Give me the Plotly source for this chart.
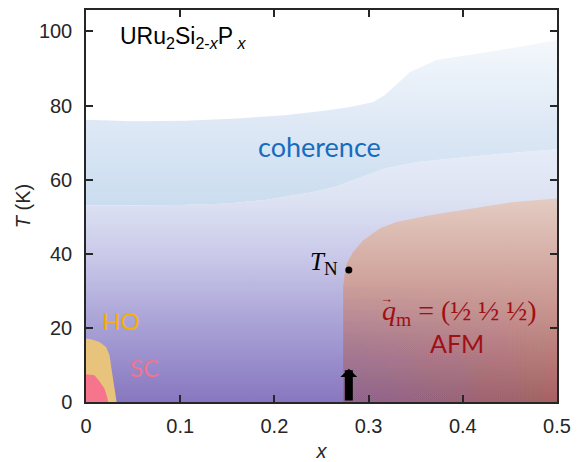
import plotly.graph_objects as go

# ---------------- data ----------------
coh_upper_x = [0, 0.05, 0.105, 0.16, 0.211, 0.259, 0.282, 0.305, 0.317, 0.324, 0.344, 0.372, 0.418, 0.46, 0.5]
coh_upper_T = [76.2, 75.8, 75.9, 76.5, 77.4, 78.8, 79.7, 81.0, 82.8, 84.5, 89.1, 92.3, 94.1, 95.8, 97.7]

coh_lower_x = [0, 0.05, 0.1, 0.15, 0.19, 0.211, 0.24, 0.264, 0.29, 0.317, 0.352, 0.39, 0.424, 0.46, 0.5]
coh_lower_T = [53.1, 53.1, 53.2, 53.6, 54.5, 55.4, 56.6, 58.0, 60.5, 63.0, 64.8, 65.8, 66.6, 67.4, 68.2]

afm_x = [0.273, 0.273, 0.2745, 0.2765, 0.2835, 0.294, 0.3118, 0.3297, 0.365, 0.4187, 0.4536, 0.5]
afm_T = [0, 31.0, 34.5, 37.3, 40.5, 43.6, 46.8, 48.6, 50.4, 52.6, 54.0, 54.9]

ho_x = [0, 0.002, 0.0072, 0.0143, 0.0215, 0.025, 0.0268, 0.0292, 0.0325]
ho_T = [17.1, 17.1, 16.8, 16.2, 14.8, 12.6, 9.4, 4.9, 0]

sc_x = [0, 0.002, 0.009, 0.0143, 0.0197, 0.0225, 0.0235]
sc_T = [7.5, 7.4, 7.2, 5.6, 3.6, 1.3, 0]

tn_x = [0.279]
tn_T = [35.6]

x_ticks = [0, 0.1, 0.2, 0.3, 0.4, 0.5]
x_ticklabels = ["0", "0.1", "0.2", "0.3", "0.4", "0.5"]
y_ticks = [0, 20, 40, 60, 80, 100]
y_ticklabels = ["0", "20", "40", "60", "80", "100"]

X_MAX = 0.5
Y_MAX = 105.8

# ---------------- figure ----------------
fig = go.Figure()

# background gradient (below the coherence band)
bg_x = [0] + coh_lower_x + [X_MAX]
bg_y = [0] + coh_lower_T + [0]
fig.add_trace(go.Scatter(
    x=bg_x, y=bg_y, mode="lines", line=dict(width=0), fill="toself",
    fillgradient=dict(type="vertical", start=0, stop=70,
                      colorscale=[[0, "rgb(136,119,192)"], [0.286, "rgb(167,160,213)"],
                                  [0.57, "rgb(202,202,233)"], [0.786, "rgb(222,227,243)"],
                                  [1, "rgb(230,237,248)"]]),
    hoverinfo="skip", showlegend=False))

# coherence band
band_x = coh_lower_x + coh_upper_x[::-1]
band_y = coh_lower_T + coh_upper_T[::-1]
fig.add_trace(go.Scatter(
    x=band_x, y=band_y, mode="lines", line=dict(width=0), fill="toself",
    fillgradient=dict(type="vertical", start=52, stop=98,
                      colorscale=[[0, "rgb(201,220,238)"], [0.52, "rgb(223,233,246)"],
                                  [1, "rgb(244,248,252)"]]),
    hoverinfo="skip", showlegend=False))

# AFM region
afm_px = afm_x + [X_MAX]
afm_py = afm_T + [0]
fig.add_trace(go.Scatter(
    x=afm_px, y=afm_py, mode="lines", line=dict(width=0), fill="toself",
    fillgradient=dict(type="vertical", start=0, stop=55,
                      colorscale=[[0, "rgb(168,96,98)"], [0.45, "rgb(200,148,142)"],
                                  [1, "rgb(228,204,194)"]]),
    hoverinfo="skip", showlegend=False))

# purple tint toward the lower-left of the AFM region (stacked faint layers)
n_layers = 10
for k in range(1, n_layers + 1):
    h = afm_T[1] * k / n_layers
    fig.add_trace(go.Scatter(
        x=[afm_x[0], afm_x[0], X_MAX, X_MAX], y=[0, h, h, 0],
        mode="lines", line=dict(width=0), fill="toself",
        fillgradient=dict(type="horizontal", start=afm_x[0], stop=X_MAX,
                          colorscale=[[0, "rgba(110,110,210,0.05)"], [1, "rgba(110,110,210,0)"]]),
        hoverinfo="skip", showlegend=False))

# HO region
fig.add_trace(go.Scatter(
    x=ho_x + [0], y=ho_T + [0], mode="lines", line=dict(width=0), fill="toself",
    fillcolor="rgb(231,195,123)", hoverinfo="skip", showlegend=False))

# SC region
fig.add_trace(go.Scatter(
    x=sc_x + [0], y=sc_T + [0], mode="lines", line=dict(width=0), fill="toself",
    fillcolor="rgb(247,117,140)", hoverinfo="skip", showlegend=False))

# T_N point
fig.add_trace(go.Scatter(
    x=tn_x, y=tn_T, mode="markers", marker=dict(color="black", size=7),
    hoverinfo="skip", showlegend=False))

sans = "Liberation Sans, Arial, sans-serif"
serif = "Liberation Serif, Times New Roman, serif"
calib = "Lato, Open Sans, sans-serif"
afm_red = "rgb(160,15,20)"

annotations = [
    dict(x=0.0335, y=98.5, xanchor="left", yanchor="middle",
         text="URu<sub>2</sub>Si<sub>2-<i>x</i></sub>P<sub> <i>x</i></sub>",
         font=dict(family=sans, size=23, color="black")),
    dict(x=0.248, y=69.0, text="coherence",
         font=dict(family=calib, size=27, color="rgb(24,108,190)")),
    dict(x=0.037, y=22.1, text="HO",
         font=dict(family=calib, size=24, color="rgb(245,176,0)")),
    dict(x=0.0622, y=9.4, text="SC",
         font=dict(family=calib, size=24, color="rgb(242,115,143)")),
    dict(x=0.3125, y=24.2, xanchor="left", text="<i>q</i><sub>m</sub> = (½ ½ ½)",
         font=dict(family=serif, size=28, color=afm_red)),
    dict(x=0.3188, y=28.0, text="→",
         font=dict(family=serif, size=13, color=afm_red)),
    dict(x=0.394, y=16.0, text="AFM",
         font=dict(family=calib, size=25, color=afm_red)),
    dict(x=0.2694, y=37.4, xanchor="right",
         text="<i>T</i><sub><span style='font-size:19px'>N</span></sub>",
         font=dict(family=serif, size=25, color="black")),
]
for a in annotations:
    a.setdefault("showarrow", False)
    a["xref"] = "x"
    a["yref"] = "y"

# arrow marking the critical concentration
annotations.append(dict(
    x=tn_x[0], y=9.0, ax=tn_x[0], ay=0, xref="x", yref="y", axref="x", ayref="y",
    text="", showarrow=True, arrowhead=1, arrowwidth=8, arrowsize=0.35,
    arrowcolor="black", standoff=0, startstandoff=0))

axis_common = dict(showgrid=False, zeroline=False, showline=True, linecolor="#262626",
                   linewidth=1.5, mirror="ticks", ticks="inside", ticklen=7,
                   tickwidth=1.5, tickcolor="#262626", automargin=False,
                   tickfont=dict(family=sans, size=20, color="#262626"))

fig.update_layout(
    width=580, height=462,
    margin=dict(l=86, r=23, t=10, b=60, pad=0),
    paper_bgcolor="white", plot_bgcolor="white",
    xaxis=dict(range=[0, X_MAX], tickvals=x_ticks, ticktext=x_ticklabels,
               ticklabelstandoff=5,
               title=dict(text="<i>x</i>", font=dict(family=sans, size=20, color="#262626"),
                          standoff=8),
               **axis_common),
    yaxis=dict(range=[0, Y_MAX], tickvals=y_ticks, ticktext=y_ticklabels,
               ticklabelstandoff=8,
               title=dict(text="<i>T</i> (K)", font=dict(family=sans, size=20, color="#262626"),
                          standoff=3),
               **axis_common),
    annotations=annotations,
)

fig.write_html("out.html", config={"displayModeBar": False},
               post_script="document.body.style.margin='0';")
